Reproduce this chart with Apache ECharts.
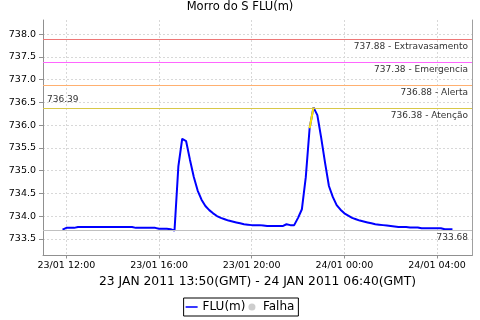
<!DOCTYPE html>
<html><head><meta charset="utf-8">
<script src="https://cdn.jsdelivr.net/npm/echarts@6/dist/echarts.min.js"></script>
<style>html,body{margin:0;padding:0;background:#fff}#c{width:480px;height:320px}</style>
</head><body><div id="c"></div>
<script>
const chartTitle = 'Morro do S FLU(m)';
const axisTitle = '23 JAN 2011 13:50(GMT) - 24 JAN 2011 06:40(GMT)';
const seriesName = 'FLU(m)';
const failName = 'Falha';
// sampling: every 10 minutes from 23/01 11:50 (local), hours since 23/01 00:00
const startHour = 11 + 50 / 60;
const stepHours = 10 / 60;
const fluValues = [
  733.70, 733.74, 733.74, 733.74, 733.76, 733.76, 733.76, 733.76, 733.76, 733.76,
  733.76, 733.76, 733.76, 733.76, 733.76, 733.76, 733.76, 733.76, 733.76, 733.74,
  733.74, 733.74, 733.74, 733.74, 733.74, 733.72, 733.72, 733.72, 733.71, 733.68,
  735.09, 735.70, 735.65, 735.24, 734.86, 734.56, 734.36, 734.22, 734.13, 734.06,
  734.00, 733.96, 733.93, 733.90, 733.88, 733.86, 733.84, 733.82, 733.81, 733.80,
  733.80, 733.80, 733.79, 733.78, 733.78, 733.78, 733.78, 733.78, 733.82, 733.80,
  733.80, 733.96, 734.15, 734.85, 735.93, 736.39, 736.22, 735.72, 735.17, 734.66,
  734.42, 734.24, 734.14, 734.06, 734.01, 733.96, 733.93, 733.90, 733.88, 733.86,
  733.84, 733.82, 733.81, 733.80, 733.79, 733.78, 733.77, 733.76, 733.76, 733.76,
  733.75, 733.75, 733.75, 733.73, 733.73, 733.73, 733.73, 733.73, 733.73, 733.71,
  733.71, 733.71
];
const thresholdValues = [737.88, 737.38, 736.88, 736.38];
const thresholdNames = ['Extravasamento', 'Emergencia', 'Alerta', 'Atenção'];
const thresholdColors = ['#ee7777', '#ff66ff', '#ffb070', '#d8c848'];
const xTickHours = [12, 16, 20, 24, 28];
const yTickValues = [733.5, 734.0, 734.5, 735.0, 735.5, 736.0, 736.5, 737.0, 737.5, 738.0];
const xRange = [10.99, 29.51];
const yRange = [733.132, 738.312];

const FONT = 'DejaVu Sans';
const pts = fluValues.map((v, i) => [startHour + i * stepHours, v]);
const attention = thresholdValues[3];
const hiPts = pts.map((p, i) => {
  const nxt = fluValues[i + 1];
  return (fluValues[i] > attention || (nxt !== undefined && nxt > attention)) ? p : [p[0], null];
});

function fmtX(v) {
  const h = Math.round(v);
  const day = h >= 24 ? '24/01' : '23/01';
  const hh = String(h % 24).padStart(2, '0');
  return day + ' ' + hh + ':00';
}

const markData = thresholdValues.map((v, i) => ({
  yAxis: v,
  lineStyle: { color: thresholdColors[i], width: 1, type: 'solid', opacity: 1 },
  label: { show: true, position: 'insideEndBottom', formatter: v.toFixed(2) + ' - ' + thresholdNames[i] }
}));
markData.push({
  type: 'min',
  lineStyle: { color: '#c0c0c0', width: 1, type: 'solid', opacity: 1 },
  label: { show: true, position: 'insideEndBottom', formatter: p => p.value.toFixed(2) }
});
markData.push({
  type: 'max',
  lineStyle: { color: 'rgba(0,0,0,0)', width: 1, type: 'solid' },
  label: { show: true, position: 'insideStartTop', formatter: p => p.value.toFixed(2) }
});

const chart = echarts.init(document.getElementById('c'), null, { renderer: 'canvas' });
chart.setOption({
  animation: false,
  backgroundColor: '#fff',
  title: {
    text: chartTitle, left: 'center', top: 1, padding: 0,
    textStyle: { fontFamily: FONT, fontSize: 11.5, fontWeight: 'normal', color: '#000' }
  },
  legend: {
    bottom: 4, left: 'center',
    data: [
      { name: seriesName, icon: 'path://M0,0H20V2.6H0Z' },
      { name: failName, icon: 'circle' }
    ],
    itemWidth: 12, itemHeight: 7, itemGap: 3,
    borderColor: '#000', borderWidth: 1, borderRadius: 0,
    padding: [3, 4, 3, 2],
    textStyle: { fontFamily: FONT, fontSize: 12, color: '#000' }
  },
  grid: { left: 43, right: 8, top: 20, bottom: 64.5 },
  xAxis: {
    type: 'value', min: xRange[0], max: xRange[1],
    name: axisTitle, nameLocation: 'middle', nameGap: 19.5,
    nameTextStyle: { fontFamily: FONT, fontSize: 12.3, color: '#000' },
    axisLine: { show: true, lineStyle: { color: '#909090' } },
    axisTick: { show: true, customValues: xTickHours, length: 3, lineStyle: { color: '#909090' } },
    axisLabel: { customValues: xTickHours, formatter: fmtX, fontFamily: FONT, fontSize: 9.5, color: '#000', margin: 5 },
    splitLine: { show: true, lineStyle: { color: '#d8d8d8', type: [2, 2], width: 1 } }
  },
  yAxis: [{
    type: 'value', min: yRange[0], max: yRange[1],
    axisLine: { show: true, lineStyle: { color: '#909090' } },
    axisTick: { show: true, customValues: yTickValues, length: 4, lineStyle: { color: '#909090' } },
    axisLabel: { customValues: yTickValues, formatter: v => v.toFixed(1), fontFamily: FONT, fontSize: 9.5, color: '#000', margin: 7 },
    splitLine: { show: true, lineStyle: { color: '#d8d8d8', type: [2, 2], width: 1 } }
  }, {
    type: 'value', min: yRange[0], max: yRange[1], position: 'right',
    axisLine: { show: true, lineStyle: { color: '#a0a0a0' } },
    axisTick: { show: false }, axisLabel: { show: false }, splitLine: { show: false }
  }],
  series: [
    {
      name: seriesName, type: 'line', data: pts, symbol: 'none', z: 3,
      lineStyle: { color: '#0000ff', width: 2 }, itemStyle: { color: '#0000ff' },
      markLine: {
        silent: true, symbol: 'none', animation: false,
        label: { fontFamily: FONT, fontSize: 9, color: '#333', distance: [4, 3] },
        data: markData
      }
    },
    {
      name: 'hi', type: 'line', data: hiPts, symbol: 'none', z: 4, connectNulls: false,
      lineStyle: { color: '#ffe600', width: 2 }
    },
    { name: failName, type: 'scatter', data: [], itemStyle: { color: '#c0c0c0' } }
  ]
});
</script></body></html>
